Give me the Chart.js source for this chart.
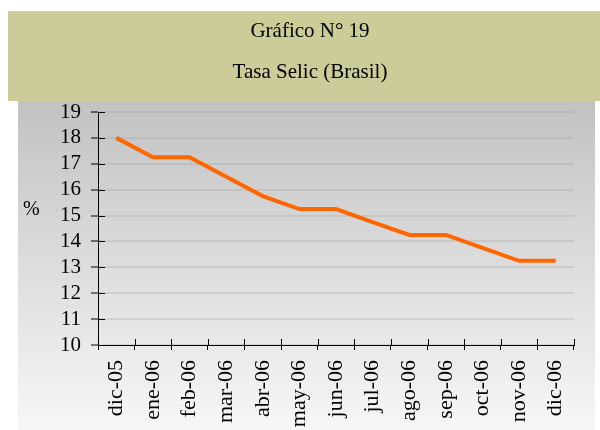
<!DOCTYPE html>
<html>
<head>
<meta charset="utf-8">
<script src="https://cdn.jsdelivr.net/npm/chart.js@4"></script>
<style>
  html, body { margin: 0; padding: 0; background: #fff; }
  #wrap { width: 600px; height: 430px; }
</style>
</head>
<body>
<div id="wrap"><canvas id="chart" width="600" height="430"></canvas></div>
<script>
// Tasa Selic, % anual
const months = ["dic-05", "ene-06", "feb-06", "mar-06", "abr-06", "may-06", "jun-06",
                "jul-06", "ago-06", "sep-06", "oct-06", "nov-06", "dic-06"];
const selic = [18.0, 17.25, 17.25, 16.5, 15.75, 15.25, 15.25, 14.75, 14.25, 14.25, 13.75, 13.25, 13.25];
const titleLines = ["Gráfico N° 19", "Tasa Selic (Brasil)"];
const yLabel = "%";

const serif = "'Liberation Serif', 'Times New Roman', serif";

// band + grey gradient behind the plot, titles drawn on the band
const backdrop = {
  id: "backdrop",
  beforeDraw(chart) {
    const ctx = chart.ctx;
    ctx.save();
    ctx.fillStyle = "#fff";
    ctx.fillRect(0, 0, chart.width, chart.height);

    const g = ctx.createLinearGradient(0, 101, 0, chart.height);
    g.addColorStop(0, "#c2c2c2");
    g.addColorStop(1, "#f7f7f7");
    ctx.fillStyle = g;
    ctx.fillRect(18, 101, 577, chart.height - 101);

    ctx.fillStyle = "#cccc99";
    ctx.fillRect(8, 11, chart.width - 8, 90);

    ctx.fillStyle = "#000";
    ctx.font = "21px " + serif;
    ctx.textAlign = "center";
    ctx.textBaseline = "alphabetic";
    ctx.fillText(titleLines[0], 310, 37);
    ctx.fillText(titleLines[1], 310, 78);

    ctx.font = "20px " + serif;
    ctx.textAlign = "left";
    ctx.textBaseline = "middle";
    ctx.fillText(yLabel, 23, 210);
    ctx.restore();
  },
  // inward half of the crossing tick marks
  afterDraw(chart) {
    const ctx = chart.ctx;
    const x = chart.scales.x, y = chart.scales.y;
    const area = chart.chartArea;
    ctx.save();
    ctx.strokeStyle = "#000";
    ctx.lineWidth = 1;
    ctx.beginPath();
    x.ticks.forEach((t, i) => {
      const px = Math.round(x.getPixelForTick(i) - x.width / x.ticks.length / 2) + 0.5;
      ctx.moveTo(px, area.bottom);
      ctx.lineTo(px, area.bottom - 6);
    });
    const last = Math.round(area.right) + 0.5;
    ctx.moveTo(last, area.bottom);
    ctx.lineTo(last, area.bottom - 6);
    y.ticks.forEach((t, i) => {
      const py = Math.round(y.getPixelForTick(i)) + 0.5;
      ctx.moveTo(area.left, py);
      ctx.lineTo(area.left + 7, py);
    });
    ctx.stroke();
    ctx.restore();
  }
};

new Chart(document.getElementById("chart"), {
  type: "line",
  data: {
    labels: months,
    datasets: [{
      data: selic,
      borderColor: "#ff6600",
      borderWidth: 4,
      pointRadius: 0,
      tension: 0,
      fill: false
    }]
  },
  options: {
    responsive: false,
    animation: false,
    layout: { padding: { top: 112, left: 18, right: 26, bottom: 0 } },
    plugins: {
      legend: { display: false },
      tooltip: { enabled: false }
    },
    scales: {
      x: {
        offset: true,
        grid: {
          offset: true,
          drawOnChartArea: false,
          tickLength: 5,
          tickColor: "#000"
        },
        border: { color: "#000", width: 1 },
        ticks: {
          autoSkip: false,
          minRotation: 90,
          maxRotation: 90,
          padding: 10,
          color: "#000",
          font: { family: serif, size: 22 }
        },
        afterFit(scale) { scale.height = 85; }
      },
      y: {
        min: 10,
        max: 19,
        ticks: {
          autoSkip: false,
          stepSize: 1,
          padding: 10,
          color: "#000",
          font: { family: serif, size: 21 }
        },
        grid: {
          color: "rgba(150,150,150,0.25)",
          lineWidth: 2,
          tickLength: 7,
          tickColor: "#000",
          tickWidth: 1
        },
        border: { color: "#000", width: 1 },
        afterFit(scale) { scale.width = 80; }
      }
    }
  },
  plugins: [backdrop]
});
</script>
</body>
</html>
